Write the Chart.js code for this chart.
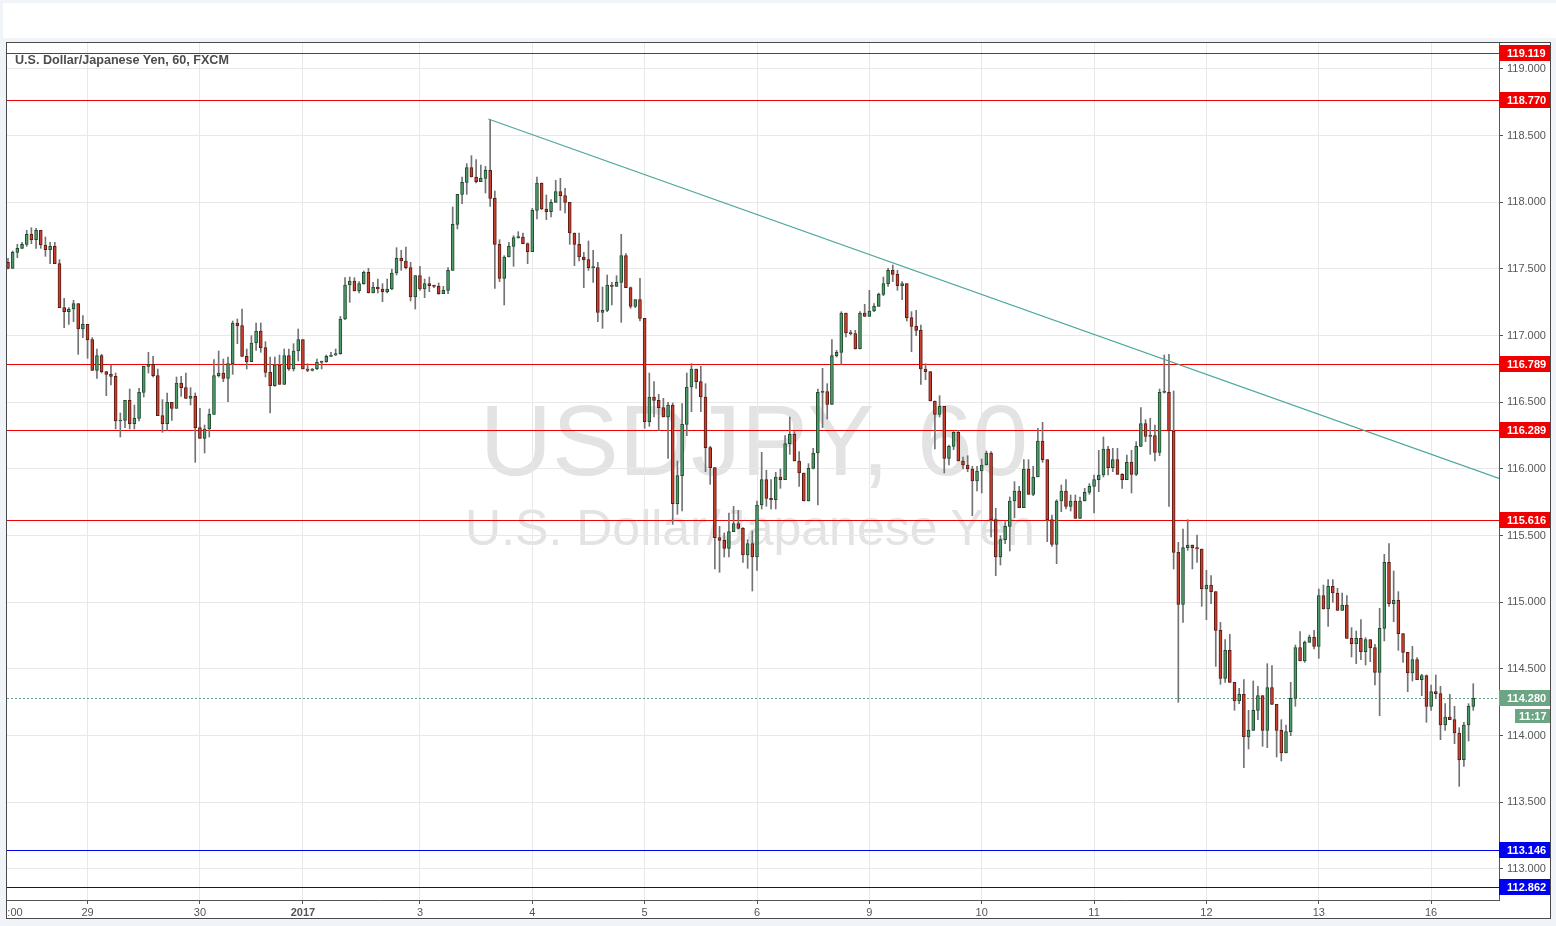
<!DOCTYPE html>
<html>
<head>
<meta charset="utf-8">
<title>USDJPY, 60</title>
<script src="https://cdn.jsdelivr.net/npm/chart.js@4.4.0/dist/chart.umd.min.js"></script>
<style>
  html, body { margin: 0; padding: 0; }
  body { width: 1556px; height: 926px; background: #f0f3f7; position: relative; overflow: hidden;
         font-family: "Liberation Sans", Arial, sans-serif; }
  #topbar { position: absolute; left: 3px; top: 3px; width: 1553px; height: 35px; background: #fff; }
  #frame { position: absolute; left: 6px; top: 42px; width: 1543px; height: 875px; background: #fff;
           border: 1px solid #4a4a4a; }
  .wm { position: absolute; transform: translate(-50%, -50%); white-space: nowrap; color: #e3e3e3; line-height: 1; }
  #wm1 { left: 754px; top: 440px; font-size: 100px; }
  #wm2 { left: 750px; top: 528px; font-size: 50px; }
  #title { position: absolute; left: 15px; top: 53px; font-size: 12.6px; font-weight: bold; color: #4d4d4d; }
  #chart { position: absolute; left: 0; top: 0; }
</style>
</head>
<body>
<div id="topbar"></div>
<div id="frame"></div>
<div class="wm" id="wm1">USDJPY, 60</div>
<div class="wm" id="wm2">U.S. Dollar/Japanese Yen</div>
<canvas id="chart" width="1556" height="926"></canvas>
<div id="title">U.S. Dollar/Japanese Yen, 60, FXCM</div>
<script>
// hourly candles
const firstOpen = 117.55;
const closes = [
  117.505, 117.625, 117.655, 117.685, 117.76, 117.72, 117.79, 117.68, 117.645, 117.67,
  117.54, 117.21, 117.18, 117.20, 117.24, 117.05, 117.085, 116.97, 116.74, 116.85,
  116.73, 116.71, 116.695, 116.36, 116.365, 116.515, 116.34, 116.38, 116.575, 116.77,
  116.785, 116.70, 116.40, 116.34, 116.50, 116.455, 116.645, 116.61, 116.53, 116.545,
  116.31, 116.23, 116.30, 116.41, 116.70, 116.72, 116.68, 116.79, 117.095, 117.075,
  116.845, 116.805, 116.945, 117.035, 116.91, 116.725, 116.625, 116.78, 116.635, 116.85,
  116.75, 116.885, 116.97, 116.75, 116.74, 116.75, 116.80, 116.805, 116.845, 116.855,
  116.865, 117.125, 117.38, 117.41, 117.335, 117.39, 117.475, 117.32, 117.365, 117.35,
  117.33, 117.35, 117.47, 117.58, 117.56, 117.51, 117.29, 117.45, 117.35, 117.39,
  117.375, 117.37, 117.315, 117.34, 117.49, 117.835, 118.06, 118.15, 118.26, 118.19,
  118.155, 118.18, 118.24, 118.03, 117.685, 117.43, 117.59, 117.67, 117.735, 117.74,
  117.69, 117.63, 117.94, 118.145, 117.95, 117.93, 118.00, 118.08, 118.05, 118.00,
  117.77, 117.685, 117.59, 117.57, 117.51, 117.51, 117.175, 117.19, 117.38, 117.37,
  117.40, 117.60, 117.36, 117.22, 117.27, 117.13, 116.355, 116.54, 116.515, 116.46,
  116.39, 116.48, 115.74, 115.95, 116.335, 116.615, 116.75, 116.655, 116.54, 116.16,
  116.01, 115.485, 115.465, 115.405, 115.53, 115.59, 115.555, 115.355, 115.44, 115.34,
  115.73, 115.92, 115.78, 115.77, 115.94, 115.92, 116.19, 116.26, 116.06, 115.97,
  115.76, 116.005, 116.12, 116.575, 116.58, 116.485, 116.85, 116.875, 117.17, 117.02,
  117.015, 116.90, 117.17, 117.145, 117.185, 117.22, 117.31, 117.39, 117.49, 117.46,
  117.375, 117.39, 117.135, 117.07, 117.04, 116.75, 116.73, 116.51, 116.41, 116.47,
  116.08, 116.17, 116.275, 116.06, 116.03, 116.00, 115.91, 115.985, 116.03, 116.12,
  115.62, 115.34, 115.47, 115.57, 115.76, 115.835, 115.71, 116.00, 115.81, 115.94,
  116.21, 116.07, 115.62, 115.435, 115.76, 115.835, 115.72, 115.76, 115.63, 115.76,
  115.825, 115.87, 115.92, 115.955, 116.15, 116.01, 116.07, 115.96, 115.92, 116.05,
  115.96, 116.17, 116.34, 116.245, 116.25, 116.125, 116.575, 116.575, 116.285, 115.375,
  114.985, 115.41, 115.43, 115.41, 115.40, 115.10, 115.13, 115.08, 114.79, 114.43,
  114.64, 114.40, 114.26, 114.31, 113.99, 114.04, 114.19, 114.30, 114.04, 114.36,
  114.235, 114.04, 113.87, 114.03, 114.28, 114.66, 114.56, 114.70, 114.74, 114.67,
  115.05, 114.95, 115.12, 115.07, 114.94, 114.98, 114.73, 114.69, 114.73, 114.63,
  114.72, 114.66, 114.475, 114.805, 115.30, 114.99, 115.015, 114.765, 114.625, 114.47,
  114.57, 114.42, 114.45, 114.22, 114.33, 114.315, 114.08, 114.14, 114.12, 114.02,
  113.82, 114.08, 114.22, 114.28
];
const highs = [
  117.58, 117.635, 117.685, 117.70, 117.79, 117.81, 117.805, 117.79, 117.74, 117.70,
  117.70, 117.57, 117.28, 117.21, 117.265, 117.24, 117.15, 117.085, 116.985, 116.90,
  116.86, 116.73, 116.78, 116.72, 116.42, 116.515, 116.60, 116.48, 116.605, 116.77,
  116.875, 116.845, 116.75, 116.52, 116.57, 116.50, 116.69, 116.695, 116.72, 116.61,
  116.57, 116.455, 116.33, 116.45, 116.82, 116.885, 116.825, 116.84, 117.11, 117.125,
  117.20, 116.90, 117.00, 117.095, 117.095, 116.955, 116.84, 116.84, 116.855, 116.90,
  116.90, 116.94, 117.05, 116.97, 116.79, 116.755, 116.825, 116.81, 116.855, 116.875,
  116.90, 117.145, 117.435, 117.44, 117.435, 117.405, 117.485, 117.505, 117.40, 117.425,
  117.39, 117.425, 117.50, 117.66, 117.64, 117.665, 117.55, 117.45, 117.52, 117.425,
  117.44, 117.38, 117.395, 117.37, 117.51, 117.965, 118.06, 118.19, 118.29, 118.35,
  118.32, 118.28, 118.27, 118.62, 118.085, 117.72, 117.60, 117.70, 117.75, 117.78,
  117.77, 117.695, 117.955, 118.19, 118.145, 118.055, 118.02, 118.165, 118.18, 118.105,
  118.00, 117.77, 117.77, 117.625, 117.71, 117.64, 117.55, 117.365, 117.455, 117.40,
  117.45, 117.76, 117.615, 117.365, 117.27, 117.43, 117.13, 116.72, 116.655, 116.56,
  116.53, 116.50, 116.495, 116.06, 116.49, 116.72, 116.79, 116.75, 116.77, 116.64,
  116.17, 116.01, 115.57, 115.52, 115.67, 115.72, 115.69, 115.56, 115.47, 115.535,
  115.76, 116.125, 115.99, 115.92, 115.975, 116.00, 116.25, 116.39, 116.28, 116.13,
  115.97, 116.04, 116.155, 116.60, 116.755, 116.64, 116.97, 116.89, 117.18, 117.17,
  117.04, 117.04, 117.18, 117.235, 117.34, 117.24, 117.32, 117.44, 117.505, 117.53,
  117.49, 117.405, 117.39, 117.18, 117.19, 117.08, 116.79, 116.73, 116.51, 116.55,
  116.47, 116.18, 116.28, 116.29, 116.09, 116.10, 116.02, 116.02, 116.075, 116.135,
  116.13, 115.705, 115.50, 115.605, 115.79, 115.905, 115.87, 116.07, 116.07, 116.02,
  116.305, 116.35, 116.07, 115.655, 115.77, 115.88, 115.92, 115.805, 115.805, 115.79,
  115.855, 115.89, 115.955, 116.14, 116.24, 116.17, 116.155, 116.155, 115.965, 116.105,
  116.14, 116.205, 116.46, 116.37, 116.38, 116.33, 116.60, 116.855, 116.86, 116.585,
  115.45, 115.55, 115.62, 115.43, 115.505, 115.40, 115.24, 115.20, 115.08, 114.85,
  114.72, 114.76, 114.40, 114.355, 114.42, 114.19, 114.41, 114.37, 114.30, 114.54,
  114.525, 114.235, 114.12, 114.08, 114.40, 114.68, 114.78, 114.71, 114.755, 114.79,
  115.10, 115.13, 115.17, 115.17, 115.105, 115.07, 115.05, 114.81, 114.785, 114.87,
  114.735, 114.72, 114.685, 114.955, 115.36, 115.44, 115.235, 115.08, 114.765, 114.625,
  114.67, 114.585, 114.46, 114.455, 114.38, 114.455, 114.37, 114.24, 114.31, 114.22,
  114.06, 114.10, 114.24, 114.39
];
const lows = [
  117.50, 117.505, 117.585, 117.655, 117.67, 117.69, 117.655, 117.655, 117.595, 117.54,
  117.54, 117.21, 117.06, 117.085, 117.105, 116.86, 116.985, 116.83, 116.74, 116.68,
  116.72, 116.55, 116.63, 116.30, 116.24, 116.31, 116.30, 116.30, 116.36, 116.54,
  116.72, 116.69, 116.40, 116.275, 116.29, 116.365, 116.455, 116.545, 116.53, 116.48,
  116.05, 116.23, 116.12, 116.24, 116.41, 116.69, 116.655, 116.505, 116.71, 116.94,
  116.845, 116.75, 116.805, 116.89, 116.875, 116.69, 116.42, 116.62, 116.635, 116.635,
  116.74, 116.735, 116.81, 116.75, 116.73, 116.735, 116.745, 116.75, 116.80, 116.845,
  116.85, 116.86, 117.12, 117.25, 117.335, 117.32, 117.385, 117.32, 117.32, 117.32,
  117.255, 117.32, 117.345, 117.455, 117.49, 117.50, 117.26, 117.20, 117.34, 117.285,
  117.33, 117.36, 117.31, 117.315, 117.315, 117.49, 117.80, 117.99, 118.06, 118.19,
  118.145, 118.155, 118.07, 117.97, 117.355, 117.405, 117.23, 117.59, 117.52, 117.73,
  117.69, 117.54, 117.63, 117.875, 117.945, 117.87, 117.89, 118.00, 117.94, 117.92,
  117.685, 117.525, 117.56, 117.36, 117.49, 117.40, 117.105, 117.055, 117.18, 117.23,
  117.37, 117.10, 117.36, 117.205, 117.21, 117.11, 116.305, 116.32, 116.39, 116.29,
  116.39, 116.08, 115.585, 115.66, 115.685, 116.25, 116.43, 116.605, 116.43, 115.98,
  115.885, 115.25, 115.225, 115.34, 115.34, 115.53, 115.55, 115.30, 115.255, 115.085,
  115.24, 115.70, 115.72, 115.70, 115.70, 115.855, 115.92, 116.11, 116.06, 115.87,
  115.76, 115.76, 116.00, 115.73, 116.31, 116.375, 116.485, 116.84, 116.785, 116.99,
  117.005, 116.90, 116.90, 117.145, 117.145, 117.18, 117.22, 117.30, 117.37, 117.405,
  117.34, 117.27, 117.11, 116.88, 117.00, 116.635, 116.67, 116.51, 116.15, 116.39,
  115.97, 116.03, 116.145, 116.06, 116.00, 115.98, 115.65, 115.835, 115.82, 116.03,
  115.49, 115.20, 115.28, 115.44, 115.385, 115.635, 115.71, 115.71, 115.81, 115.80,
  115.94, 116.05, 115.455, 115.42, 115.29, 115.68, 115.70, 115.685, 115.63, 115.63,
  115.76, 115.81, 115.67, 115.83, 115.94, 115.955, 115.98, 115.96, 115.855, 115.92,
  115.82, 115.95, 116.17, 116.205, 116.11, 116.06, 116.10, 116.57, 115.72, 115.25,
  114.25, 114.85, 115.39, 115.25, 115.30, 114.97, 114.87, 114.99, 114.52, 114.385,
  114.40, 114.40, 114.19, 114.24, 113.76, 113.90, 114.04, 114.12, 113.92, 113.91,
  114.235, 113.84, 113.81, 113.87, 114.00, 114.22, 114.56, 114.55, 114.70, 114.65,
  114.58, 114.95, 114.82, 115.00, 114.94, 114.94, 114.73, 114.59, 114.54, 114.57,
  114.53, 114.555, 114.38, 114.15, 114.71, 114.97, 114.855, 114.64, 114.55, 114.33,
  114.41, 114.42, 114.30, 114.10, 114.19, 114.28, 113.97, 114.04, 114.12, 113.94,
  113.62, 113.77, 113.96, 114.19
];

// axis ticks
const dayTickIdx = [1.5, 17, 41, 63, 88, 112, 136, 160, 184, 208, 232, 256, 280, 304];
const dayLabels = [':00', '29', '30', '2017', '3', '4', '5', '6', '9', '10', '11', '12', '13', '16'];
const priceTicks = [113, 113.5, 114, 114.5, 115, 115.5, 116, 116.5, 117, 117.5, 118, 118.5, 119];

// drawn levels and trend line
const levels = [119.119, 118.770, 116.789, 116.289, 115.616, 113.146, 112.862];
const levelColors = ['#f00000', '#f00000', '#f00000', '#f00000', '#f00000', '#0000f0', '#0000f0'];
const trendX = [102.6, 318.5];
const trendY = [118.625, 115.93];
const lastPrice = 114.280;
const countdown = '11:17';

const UP = '#4f9a6a', DOWN = '#c8402f', UP_EDGE = '#1f4a2e', DOWN_EDGE = '#5b1a13', WICK = '#737375';

const opens = closes.map((c, i) => i === 0 ? firstOpen : closes[i - 1]);
const bodies = closes.map((c, i) => ({ x: i, y: [opens[i], c] }));
const wicks = closes.map((c, i) => ({
  x: i, y: [Math.min(lows[i], opens[i], c), Math.max(highs[i], opens[i], c)]
}));
const isUp = i => closes[i] >= opens[i];

const levelPlugin = {
  id: 'levels',
  beforeDatasetsDraw(chart) {
    const { ctx, chartArea: a, scales: { y } } = chart;
    ctx.save();
    ctx.lineWidth = 1;
    levels.forEach((v, i) => {
      const py = Math.round(y.getPixelForValue(v)) + 0.5;
      ctx.strokeStyle = levelColors[i];
      ctx.beginPath(); ctx.moveTo(a.left, py); ctx.lineTo(a.right, py); ctx.stroke();
    });
    // last price dotted line
    const lp = Math.round(y.getPixelForValue(lastPrice)) + 0.5;
    ctx.strokeStyle = '#6a9f86';
    ctx.setLineDash([2, 2]);
    ctx.beginPath(); ctx.moveTo(a.left, lp); ctx.lineTo(a.right, lp); ctx.stroke();
    ctx.restore();
  },
  afterDraw(chart) {
    const { ctx, chartArea: a, scales: { y } } = chart;
    ctx.save();
    ctx.font = 'bold 11px "Liberation Sans", Arial, sans-serif';
    ctx.textBaseline = 'middle';
    const box = (v, color) => {
      const py = Math.round(y.getPixelForValue(v));
      ctx.fillStyle = color;
      ctx.fillRect(a.right, py - 8, 51, 16);
      ctx.fillStyle = '#fff';
      ctx.fillText(v.toFixed(3), a.right + 8, py + 1);
      return py;
    };
    levels.forEach((v, i) => box(v, levelColors[i]));
    const py = box(lastPrice, '#6ba583');
    ctx.fillStyle = '#6ba583';
    ctx.fillRect(a.right + 16, py + 11, 35, 14);
    ctx.fillStyle = '#fff';
    ctx.fillText(countdown, a.right + 20, py + 18.5);
    ctx.restore();
  }
};

new Chart(document.getElementById('chart'), {
  type: 'bar',
  data: {
    datasets: [
      {
        type: 'line', data: trendX.map((x, i) => ({ x, y: trendY[i] })),
        borderColor: '#4aa79b', borderWidth: 1.2, pointRadius: 0, order: -1
      },
      {
        data: bodies, grouped: false, barThickness: 3, minBarLength: 1,
        borderWidth: 1, borderSkipped: false,
        backgroundColor: c => isUp(c.dataIndex) ? UP : DOWN,
        borderColor: c => isUp(c.dataIndex) ? UP_EDGE : DOWN_EDGE,
        order: 0
      },
      {
        data: wicks, grouped: false, barThickness: 1, borderWidth: 0,
        backgroundColor: WICK, order: 1
      }
    ]
  },
  options: {
    responsive: false,
    animation: false,
    events: [],
    layout: { padding: { left: 7, top: 43, right: 0, bottom: 0 } },
    plugins: { legend: { display: false }, tooltip: { enabled: false } },
    scales: {
      x: {
        type: 'linear', offset: false, min: -0.21, max: 318.5,
        afterBuildTicks: s => { s.ticks = dayTickIdx.map(v => ({ value: v })); },
        afterFit: s => { s.height = 26; },
        grid: {
          offset: false,
          color: c => c.index === 0 ? 'rgba(0,0,0,0)' : '#e8e8e8',
          tickColor: c => c.index === 0 ? 'rgba(0,0,0,0)' : '#555',
          tickLength: 4
        },
        border: { display: true, color: '#555' },
        ticks: {
          autoSkip: false, maxRotation: 0, padding: 2, color: '#555',
          font: c => ({ size: 11, family: '"Liberation Sans", Arial, sans-serif',
                        weight: dayLabels[c.index] === '2017' ? 'bold' : 'normal' }),
          callback: (v, i) => dayLabels[i]
        }
      },
      y: {
        position: 'right', min: 112.7675, max: 119.195,
        afterBuildTicks: s => { s.ticks = priceTicks.map(v => ({ value: v })); },
        afterFit: s => { s.width = 57; },
        grid: { color: '#e8e8e8', tickColor: '#555', tickLength: 4 },
        border: { display: true, color: '#555' },
        ticks: {
          padding: 4, color: '#555',
          font: { size: 11, family: '"Liberation Sans", Arial, sans-serif' },
          callback: v => v.toFixed(3)
        }
      }
    }
  },
  plugins: [levelPlugin]
});
</script>
</body>
</html>
